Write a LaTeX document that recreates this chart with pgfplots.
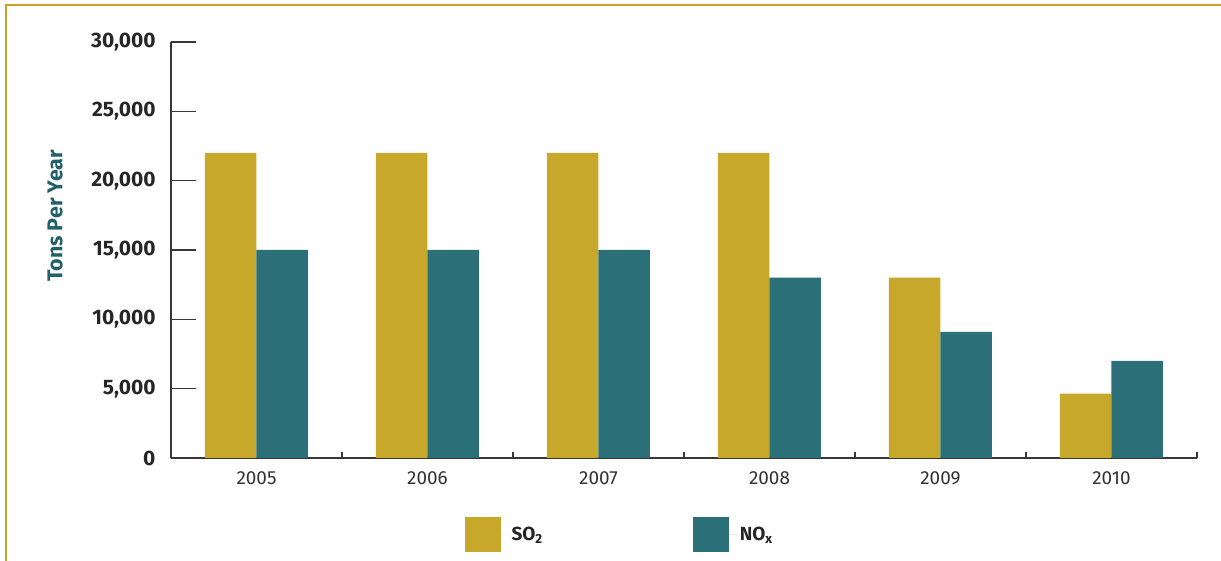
\documentclass[border=0pt]{standalone}
\usepackage{fontspec}
\setmainfont{Fira Sans}
\usepackage{pgfplots}
\pgfplotsset{compat=1.18}
\definecolor{sogold}{RGB}{200,168,42}
\definecolor{noteal}{RGB}{43,112,120}
\definecolor{framegold}{RGB}{201,160,40}
\definecolor{axisgray}{RGB}{55,55,55}
\definecolor{labelteal}{RGB}{35,95,105}
\begin{document}
\begin{tikzpicture}[x=1bp,y=1bp]
\path[fill=white] (0,0) rectangle (1221,561);
\draw[framegold, line width=1.5bp] (6,0) -- (6,556) -- (1221,556);
\begin{axis}[
  at={(171bp,103bp)}, anchor=south west,
  width=1026bp, height=416bp, scale only axis,
  xmin=-0.5, xmax=5.5, ymin=0, ymax=30000,
  enlargelimits=false,
  axis x line*=bottom, axis y line*=left,
  axis line style={-, draw=axisgray, line width=1.5bp},
  ybar=0pt, bar width=51.5bp,
  tick align=inside, major tick length=6bp,
  tick style={draw=axisgray, line width=1.5bp},
  xtick={-0.5,0.5,1.5,2.5,3.5,4.5,5.5},
  xticklabels={},
  extra x ticks={0,1,2,3,4,5},
  extra x tick labels={2005,2006,2007,2008,2009,2010},
  extra x tick style={major tick length=0pt},
  xticklabel style={font=\fontsize{19}{19}\selectfont, text=black!80, yshift=-10bp},
  ytick={0,5000,10000,15000,20000,25000,30000},
  extra y ticks={5000,10000,15000,20000,25000,30000},
  extra y tick labels={},
  extra y tick style={major tick length=25bp},
  scaled y ticks=false,
  yticklabel style={font=\bfseries\fontsize{21}{21}\selectfont, text=black!85, xshift=-12bp,
    /pgf/number format/.cd, fixed, 1000 sep={,}, assume math mode=true},
  ylabel={Tons Per Year},
  every axis y label/.style={at={(axis description cs:-0.113,0.582)}, rotate=90, anchor=center,
    font=\bfseries\fontsize{21.5}{21.5}\selectfont, text=labelteal},
  legend columns=2,
  legend style={draw=none, fill=none, at={(axis description cs:0.283,-0.184)}, anchor=west,
    font=\bfseries\fontsize{19}{19}\selectfont, text=black!85,
    /tikz/every even column/.append style={column sep=148bp}},
  legend image code/.code={\fill[#1, draw=none] (0bp,-17.5bp) rectangle (36bp,17.5bp); \path (0bp,0bp) -- (45bp,0bp);},
]
\addplot[fill=sogold, draw=none] coordinates {(0,22000) (1,22000) (2,22000) (3,22000) (4,13000) (5,4650)};
\addplot[fill=noteal, draw=none] coordinates {(0,15000) (1,15000) (2,15000) (3,13000) (4,9100) (5,7000)};
\legend{SO\textsubscript{2}, NO\textsubscript{x}}
\end{axis}
\pgfresetboundingbox
\useasboundingbox (0,0) rectangle (1221,561);
\end{tikzpicture}
\end{document}
